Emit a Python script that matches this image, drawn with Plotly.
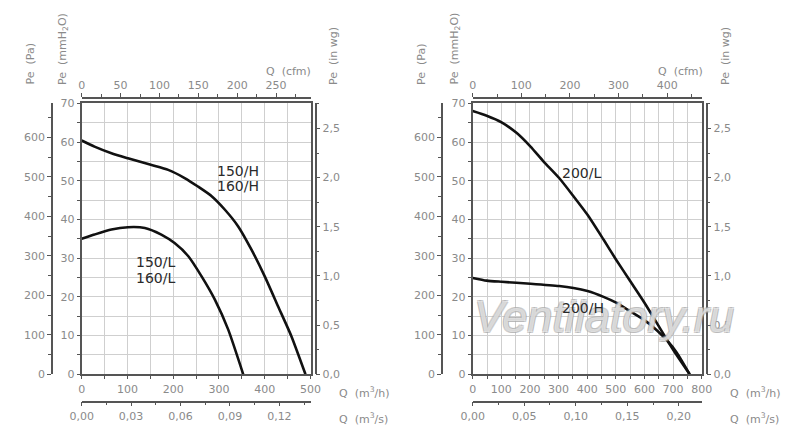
import plotly.graph_objects as go

# ---------------- data ----------------
# left chart: Q in m3/h, Pe in mmH2O
q_150H = [0, 28, 65, 101, 151, 189, 225, 254, 284, 313, 342, 371, 400, 429, 458, 489]
p_150H = [60.4, 58.8, 57.1, 55.8, 54.1, 52.8, 50.7, 48.5, 46.0, 42.5, 38.2, 32.2, 25.3, 17.6, 9.9, 0]
q_150L = [0, 28, 65, 101, 138, 174, 203, 233, 262, 291, 320, 353]
p_150L = [35.0, 36.1, 37.4, 38.0, 37.8, 36.1, 33.9, 30.5, 25.3, 19.3, 11.6, 0]
# right chart
q_200L = [0, 49, 101, 154, 202, 247, 302, 352, 401, 457, 501, 550, 600, 643, 678, 713, 758]
p_200L = [68.0, 66.8, 65.1, 62.3, 58.8, 55.0, 50.7, 46.0, 41.2, 34.8, 29.6, 24.1, 18.5, 13.3, 9.0, 4.9, 0]
q_200H = [0, 49, 101, 202, 302, 352, 401, 457, 501, 550, 600, 643, 678, 713, 758]
p_200H = [24.9, 24.2, 23.9, 23.4, 22.8, 22.3, 21.5, 20.0, 18.5, 16.3, 14.0, 11.4, 8.8, 5.6, 0]

labels_left = ["150/H", "160/H", "150/L", "160/L"]
labels_right = ["200/L", "200/H"]

# unit conversions for the secondary scales
PA_PER_MMH2O = 9.80665
MMH2O_PER_INWG = 25.4
M3H_PER_CFM = 1.699
H_PER_S = 3600.0

QMAX_LEFT = 500
QMAX_RIGHT = 800
PMAX = 70

W, H = 800, 438


def px(x):
    return x / W


def py(y):
    return (H - y) / H


GRID = "#cfcfcf"
LINE = "#555555"
TXT = "#8a8a8a"
FONT = "DejaVu Sans"

fig = go.Figure()

line_style = dict(color="#111111", width=2.6, shape="spline", smoothing=0.6)
fig.add_trace(go.Scatter(x=q_150H, y=p_150H, mode="lines", line=line_style,
                         xaxis="x", yaxis="y", showlegend=False, hoverinfo="skip"))
fig.add_trace(go.Scatter(x=q_150L, y=p_150L, mode="lines", line=line_style,
                         xaxis="x", yaxis="y", showlegend=False, hoverinfo="skip"))
fig.add_trace(go.Scatter(x=q_200L, y=p_200L, mode="lines", line=line_style,
                         xaxis="x2", yaxis="y2", showlegend=False, hoverinfo="skip"))
fig.add_trace(go.Scatter(x=q_200H, y=p_200H, mode="lines", line=line_style,
                         xaxis="x2", yaxis="y2", showlegend=False, hoverinfo="skip"))

# empty carrier traces so that each secondary scale gets drawn
for xa, ya in [("x3", "y"), ("x5", "y"), ("x", "y3"), ("x", "y5"),
               ("x4", "y2"), ("x6", "y2"), ("x2", "y4"), ("x2", "y6")]:
    fig.add_trace(go.Scatter(x=[], y=[], mode="lines", xaxis=xa, yaxis=ya,
                             showlegend=False, hoverinfo="skip"))

tickfont = dict(family=FONT, size=11, color=TXT)


def main_x(domain, qmax, anchor):
    return dict(domain=domain, range=[0, qmax], anchor=anchor, dtick=100,
                showgrid=True, gridcolor=GRID, gridwidth=1, zeroline=False,
                showline=True, linecolor=LINE, linewidth=2, mirror=True,
                ticks="outside", ticklen=3, tickcolor=LINE, tickfont=tickfont,
                minor=dict(dtick=50, showgrid=True, gridcolor=GRID, ticks="outside",
                           ticklen=3, tickcolor=LINE),
                fixedrange=True)


def main_y(anchor):
    return dict(domain=[py(374.3), py(103.3)], range=[0, PMAX], anchor=anchor, dtick=10,
                showgrid=True, gridcolor=GRID, gridwidth=1, zeroline=False,
                showline=True, linecolor=LINE, linewidth=2, mirror=True,
                ticks="outside", ticklen=3, tickcolor=LINE, tickfont=tickfont,
                minor=dict(dtick=5, showgrid=True, gridcolor=GRID, ticks="outside",
                           ticklen=3, tickcolor=LINE),
                fixedrange=True)


def sec_axis(over, side, pos, rng, dtick, mdtick, fmt=None):
    d = dict(overlaying=over, side=side, anchor="free", position=pos, range=rng,
             dtick=dtick, tick0=0, showgrid=False, zeroline=False, showline=True,
             linecolor=LINE, linewidth=1.6, ticks="outside", ticklen=4,
             tickcolor=LINE, tickwidth=1.4, tickfont=tickfont,
             minor=dict(dtick=mdtick, ticks="outside", ticklen=3, tickcolor=LINE,
                        showgrid=False),
             fixedrange=True)
    if fmt:
        d["tickformat"] = fmt
    return d


left_dom = [px(81.7), px(310.5)]
right_dom = [px(472.7), px(701.7)]

fig.update_layout(
    width=W, height=H, autosize=False,
    margin=dict(l=0, r=0, t=0, b=0, autoexpand=False),
    paper_bgcolor="white", plot_bgcolor="white",
    separators=", ",
    xaxis=main_x(left_dom, QMAX_LEFT, "y"),
    yaxis=main_y("x"),
    xaxis2=main_x(right_dom, QMAX_RIGHT, "y2"),
    yaxis2=main_y("x2"),
    # left chart secondary axes
    xaxis3=sec_axis("x", "top", py(98), [0, QMAX_LEFT / M3H_PER_CFM], 50, 25),
    xaxis5=sec_axis("x", "bottom", py(401.5), [0, QMAX_LEFT / H_PER_S], 0.03, 0.015, ".2f"),
    yaxis3=sec_axis("y", "left", px(52), [0, PMAX * PA_PER_MMH2O], 100, 50),
    yaxis5=sec_axis("y", "right", px(315.5), [0, PMAX / MMH2O_PER_INWG], 0.5, 0.25, ".1f"),
    # right chart secondary axes
    xaxis4=sec_axis("x2", "top", py(98), [0, QMAX_RIGHT / M3H_PER_CFM], 100, 50),
    xaxis6=sec_axis("x2", "bottom", py(401.5), [0, QMAX_RIGHT / H_PER_S], 0.05, 0.025, ".2f"),
    yaxis4=sec_axis("y2", "left", px(442), [0, PMAX * PA_PER_MMH2O], 100, 50),
    yaxis6=sec_axis("y2", "right", px(706.5), [0, PMAX / MMH2O_PER_INWG], 0.5, 0.25, ".1f"),
)

ann = []

# watermark (drawn first so the other texts sit on top of it)
ann.append(dict(text="<i>Ventilatory.ru</i>", x=px(604), y=py(316), xref="paper", yref="paper",
                xanchor="center", yanchor="middle", showarrow=False,
                font=dict(family="Liberation Sans", size=45, color="rgba(255,255,255,0.55)",
                          shadow="1px 1px 0 #a8a8a8, -1px -1px 0 #a8a8a8, 1px -1px 0 #a8a8a8, -1px 1px 0 #a8a8a8")))

titlefont = dict(family=FONT, size=11, color=TXT)


def vtitle(text, x, ybottom=87):
    ann.append(dict(text=text, x=px(x), y=py(ybottom), xref="paper", yref="paper",
                    xanchor="center", yanchor="bottom", textangle=-90,
                    showarrow=False, font=titlefont))


for off in (0, 391.5):
    vtitle("Pe  (Pa)", 30 + off)
    vtitle("Pe  (mmH<sub>2</sub>O)", 63 + off)
vtitle("Pe  (in wg)", 333)
vtitle("Pe  (in wg)", 725)


def htitle(text, x, y, xanchor):
    ann.append(dict(text=text, x=px(x), y=py(y), xref="paper", yref="paper",
                    xanchor=xanchor, yanchor="middle", showarrow=False, font=titlefont))


htitle("Q  (cfm)", 313, 71, "right")
htitle("Q  (cfm)", 705, 71, "right")
htitle("Q  (m<sup>3</sup>/h)", 337, 392, "left")
htitle("Q  (m<sup>3</sup>/s)", 337, 418, "left")
htitle("Q  (m<sup>3</sup>/h)", 728, 392, "left")
htitle("Q  (m<sup>3</sup>/s)", 728, 418, "left")

curvefont = dict(family=FONT, size=14, color="#2a2a2a")
left_pos = [(341, 52.6), (341, 48.6), (161, 28.9), (161, 25.0)]
for t, (qx, pe) in zip(labels_left, left_pos):
    ann.append(dict(text=t, x=qx, y=pe, xref="x", yref="y", showarrow=False,
                    font=curvefont))
right_pos = [(381, 52.1), (386, 17.0)]
for t, (qx, pe) in zip(labels_right, right_pos):
    ann.append(dict(text=t, x=qx, y=pe, xref="x2", yref="y2", showarrow=False,
                    font=curvefont))

fig.update_layout(annotations=ann)

fig.write_html("out.html", config={"displayModeBar": False},
               post_script="document.body.style.margin='0';document.body.style.overflow='hidden';")
